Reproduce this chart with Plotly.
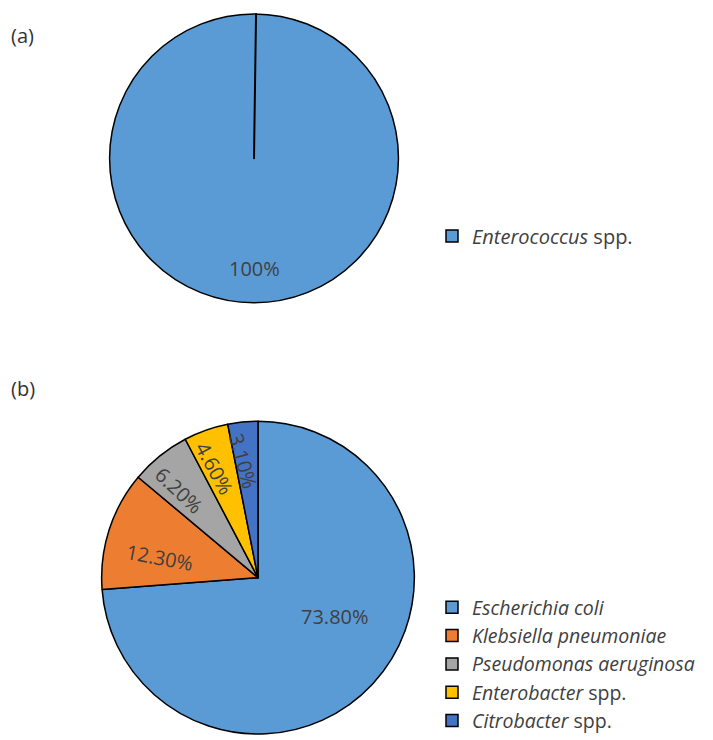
import math
import plotly.graph_objects as go

# Data
labels_a = ["<i>Enterococcus</i> spp."]
values_a = [100]
labels_b = ["<i>Escherichia coli</i>", "<i>Klebsiella pneumoniae</i>", "<i>Pseudomonas aeruginosa</i>",
            "<i>Enterobacter</i> spp.", "<i>Citrobacter</i> spp."]
values_b = [73.8, 12.3, 6.2, 4.6, 3.1]
colors_b = ["#5B9BD5", "#ED7D31", "#A5A5A5", "#FFC000", "#4472C4"]

W, H = 713, 740
font_fam = "Open Sans, Noto Sans, sans-serif"
txt_col = "#404040"

def px_dom(x0, x1, y0, y1):
    return dict(x=[x0 / W, x1 / W], y=[1 - y1 / H, 1 - y0 / H])

A_BOX = (109, 399, 14, 304)
B_BOX = (101, 415, 423, 737)
dom_a = px_dom(*A_BOX)
dom_b = px_dom(*B_BOX)

fig = go.Figure()

fig.add_trace(go.Pie(
    labels=labels_a, values=values_a, domain=dom_a, sort=False, direction="clockwise",
    marker=dict(colors=["#5B9BD5"], line=dict(color="black", width=1.5)),
    textinfo="none", hoverinfo="label+percent", legend="legend",
))
# radial seam line of pie (a)
fig.add_trace(go.Pie(
    labels=["s1", "s2"], values=[99.9999, 0.0001], domain=dom_a, sort=False,
    direction="clockwise", rotation=0.8,
    marker=dict(colors=["rgba(0,0,0,0)", "rgba(0,0,0,0)"], line=dict(color="black", width=[0, 2])),
    textinfo="none", hoverinfo="skip", showlegend=False,
))

fig.add_trace(go.Pie(
    labels=labels_b, values=values_b, domain=dom_b, sort=False, direction="clockwise", rotation=0,
    marker=dict(colors=colors_b, line=dict(color="black", width=1.5)),
    textinfo="none", hoverinfo="label+percent",
    legend="legend2",
))

# data labels for pie (b), placed from the slice angles
cxp = (B_BOX[0] + B_BOX[1]) / 2
cyp = (B_BOX[2] + B_BOX[3]) / 2
R = (B_BOX[1] - B_BOX[0]) / 2
total = sum(values_b)
cum = 0
for i, v in enumerate(values_b):
    mid = 360 * (cum + v / 2) / total
    cum += v
    if i == 0:
        frac, shift = 0.55, -16
    else:
        frac = 0.64 if v > 10 else 0.75
        shift = -0.5 * v
    pos = mid + shift
    th = math.radians(pos)
    px = cxp + frac * R * math.sin(th)
    py = cyp - frac * R * math.cos(th)
    ang = 0 if i == 0 else 0.9 * (pos - 270)
    fig.add_annotation(x=px / W, y=1 - py / H, xref="paper", yref="paper",
                       text=f"{v:.2f}%", textangle=ang, showarrow=False,
                       xanchor="center", yanchor="middle",
                       font=dict(size=20, color=txt_col, family=font_fam))

fig.add_annotation(x=254 / W, y=1 - 270 / H, xref="paper", yref="paper", text=f"{values_a[0]}%",
                   showarrow=False, font=dict(size=20, color=txt_col, family=font_fam))
fig.add_annotation(x=9 / W, y=1 - 20 / H, xref="paper", yref="paper", text="(a)", xanchor="left",
                   showarrow=False, font=dict(size=20, color="#333333", family=font_fam))
fig.add_annotation(x=9 / W, y=1 - 390 / H, xref="paper", yref="paper", text="(b)", xanchor="left",
                   showarrow=False, font=dict(size=20, color="#333333", family=font_fam))

fig.update_layout(
    width=W, height=H, margin=dict(l=0, r=0, t=0, b=0),
    paper_bgcolor="white", plot_bgcolor="white",
    font=dict(family=font_fam, color=txt_col, size=20),
    legend=dict(x=432 / W, y=1 - 237 / H, xanchor="left", yanchor="middle",
                font=dict(size=20, color=txt_col), tracegroupgap=0, itemclick=False),
    legend2=dict(x=432 / W, y=1 - 667 / H, xanchor="left", yanchor="middle",
                 font=dict(size=19.5, color=txt_col), tracegroupgap=0, itemclick=False),
)

fig.write_html("out.html")
